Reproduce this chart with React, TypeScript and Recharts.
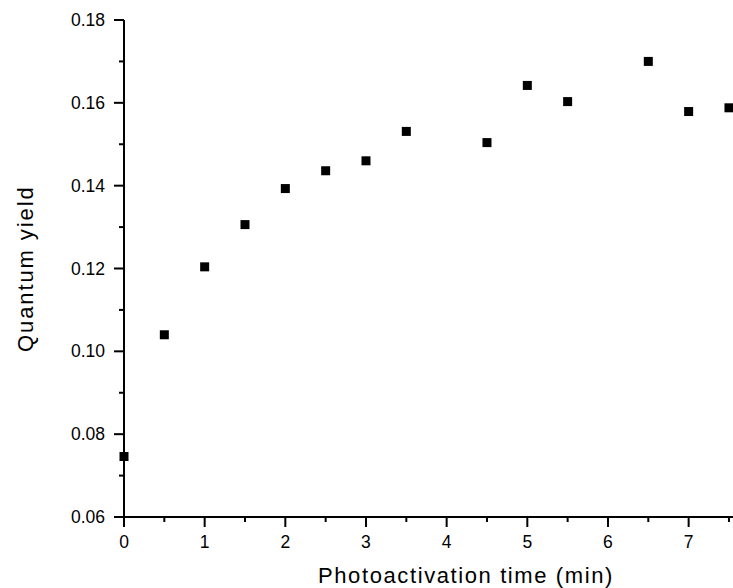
import React from 'react';
import { ScatterChart, Scatter, XAxis, YAxis } from 'recharts';

// photoactivation time (min) and measured quantum yield
const times = [0, 0.5, 1, 1.5, 2, 2.5, 3, 3.5, 4.5, 5, 5.5, 6.5, 7, 7.5];
const yields = [0.0746, 0.1040, 0.1204, 0.1306, 0.1393, 0.1436, 0.1460, 0.1531, 0.1504, 0.1642, 0.1603, 0.1700, 0.1579, 0.1588];

const xTicks = [0, 0.5, 1, 1.5, 2, 2.5, 3, 3.5, 4, 4.5, 5, 5.5, 6, 6.5, 7, 7.5];
const xLabels = [0, 1, 2, 3, 4, 5, 6, 7];
const yTicks = [0.06, 0.07, 0.08, 0.09, 0.1, 0.11, 0.12, 0.13, 0.14, 0.15, 0.16, 0.17, 0.18];
const yLabels = ['0.06', '0.08', '0.10', '0.12', '0.14', '0.16', '0.18'];

const data = times.map((t, i) => ({ t, q: yields[i] }));

const FONT = '"Liberation Sans", Arial, sans-serif';

const XTick = (props: any) => {
  const { x, y, payload } = props;
  const major = xLabels.some((v) => Math.abs(v - payload.value) < 1e-6);
  return (
    <g>
      <line x1={x} x2={x} y1={y} y2={y + (major ? 10 : 5)} stroke="#000" strokeWidth={2} />
      {major && (
        <text x={x} y={y + 31} textAnchor="middle" fontSize={17.5} fontFamily={FONT} fill="#000">
          {payload.value}
        </text>
      )}
    </g>
  );
};

const YTick = (props: any) => {
  const { x, y, payload } = props;
  const label = yLabels.find((v) => Math.abs(parseFloat(v) - payload.value) < 1e-6);
  return (
    <g>
      <line x1={x - (label ? 10 : 5)} x2={x} y1={y} y2={y} stroke="#000" strokeWidth={2} />
      {label && (
        <text x={x - 19} y={y + 6} textAnchor="end" fontSize={17.5} fontFamily={FONT} fill="#000">
          {label}
        </text>
      )}
    </g>
  );
};

const Square = (props: any) => {
  const { cx, cy } = props;
  return <rect x={cx - 4.5} y={cy - 4.5} width={9} height={9} fill="#000" />;
};

const App = () => {
  return (
    <div style={{ position: 'absolute', left: 0, top: 0, background: '#fff' }}>
      <ScatterChart width={733} height={588} margin={{ top: 20, right: 0, left: 0, bottom: 0 }}>
        <XAxis
          type="number"
          dataKey="t"
          domain={[0, 7.55]}
          ticks={xTicks}
          interval={0}
          height={71}
          tickSize={0}
          tickMargin={0}
          tickLine={false}
          tick={<XTick />}
          axisLine={{ stroke: '#000', strokeWidth: 2 }}
          label={({ viewBox }: any) => (
            <text
              x={318}
              y={viewBox.y + viewBox.height - 5}
              textAnchor="start"
              fontSize={22}
              letterSpacing={1.6}
              fontFamily={FONT}
              fill="#000"
            >
              Photoactivation time (min)
            </text>
          )}
        />
        <YAxis
          type="number"
          dataKey="q"
          domain={[0.06, 0.18]}
          ticks={yTicks}
          interval={0}
          width={124}
          tickSize={0}
          tickMargin={0}
          tickLine={false}
          tick={<YTick />}
          axisLine={{ stroke: '#000', strokeWidth: 2 }}
          label={() => {
            const cx = 33;
            const cy = 352;
            return (
              <text
                x={cx}
                y={cy}
                transform={`rotate(-90 ${cx} ${cy})`}
                textAnchor="start"
                fontSize={22}
                letterSpacing={1.9}
                fontFamily={FONT}
                fill="#000"
              >
                Quantum yield
              </text>
            );
          }}
        />
        <Scatter data={data} fill="#000" shape={<Square />} isAnimationActive={false} />
      </ScatterChart>
    </div>
  );
};

export default App;
